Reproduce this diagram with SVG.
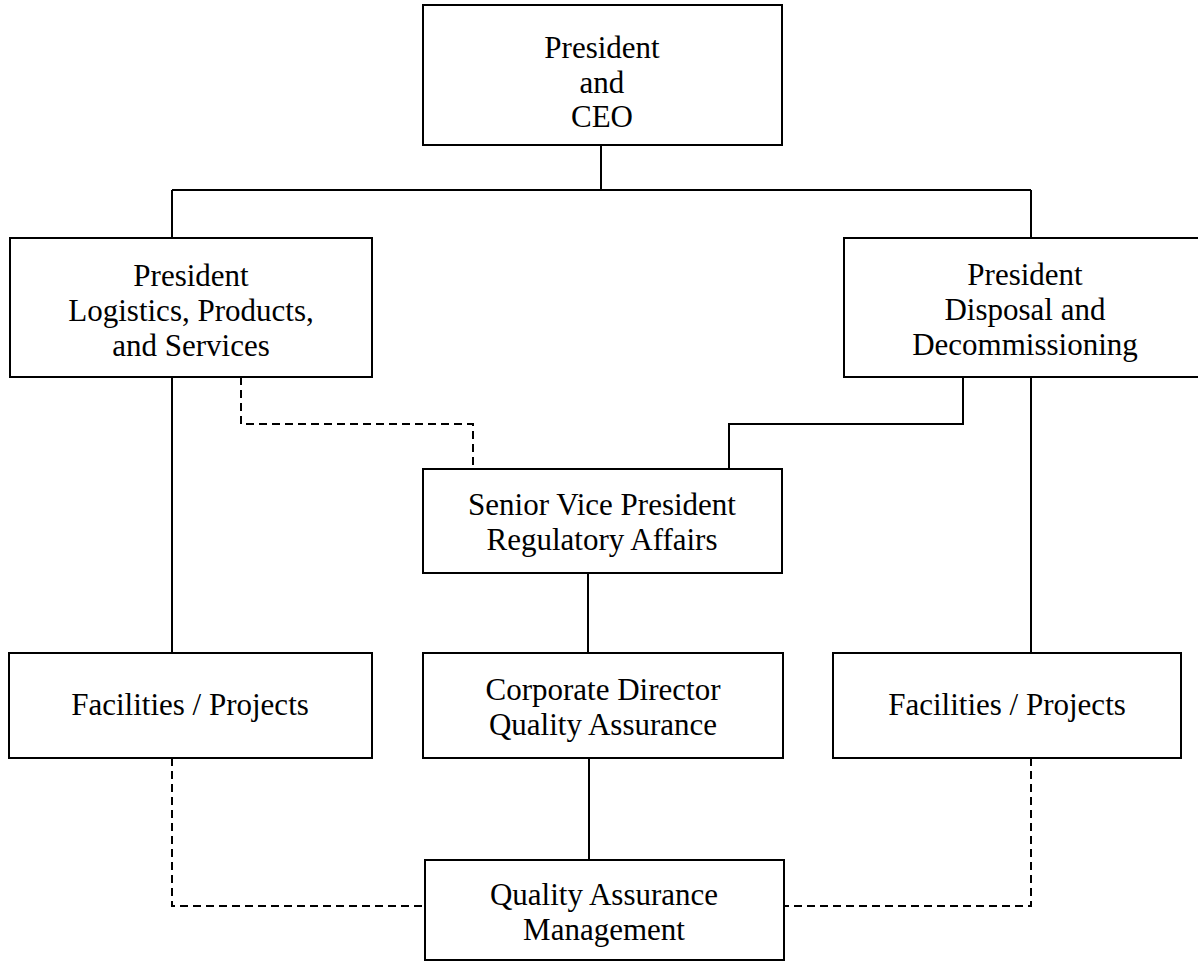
<svg xmlns="http://www.w3.org/2000/svg" width="1198" height="963" viewBox="0 0 1198 963">
<style>
.box{fill:#fff;stroke:#000;stroke-width:2}
.solid{fill:none;stroke:#000;stroke-width:2}
.dash{fill:none;stroke:#000;stroke-width:2;stroke-dasharray:8 5}
text{font-family:"Liberation Serif","Times New Roman",serif;font-size:31px;fill:#000;text-anchor:middle}
</style>
<rect width="1198" height="963" fill="#fff"/>
<g id="connectors">
<path class="solid" d="M601 145V190M172 190H1031M172 190V238M1031 190V238"/>
<path class="solid" d="M172 377V653"/>
<path class="solid" d="M1031 377V653"/>
<path class="dash" d="M241 377V424H473V469"/>
<path class="solid" d="M963 377V424H729V469"/>
<path class="solid" d="M588 573V653"/>
<path class="solid" d="M589 758V860"/>
<path class="dash" d="M172 758V906H425"/>
<path class="dash" d="M1031 758V906H784"/>
</g>
<g id="ceo">
<rect class="box" x="423" y="5" width="359" height="140"/>
<text x="602" y="58">President</text>
<text x="602" y="93">and</text>
<text x="602" y="127">CEO</text>
</g>
<g id="pres-lps">
<rect class="box" x="10" y="238" width="362" height="139"/>
<text x="191" y="286">President</text>
<text x="191" y="321">Logistics, Products,</text>
<text x="191" y="356">and Services</text>
</g>
<g id="pres-dd">
<rect class="box" x="844" y="238" width="362" height="139"/>
<text x="1025" y="285">President</text>
<text x="1025" y="320">Disposal and</text>
<text x="1025" y="355">Decommissioning</text>
</g>
<g id="svp">
<rect class="box" x="423" y="469" width="359" height="104"/>
<text x="602" y="515">Senior Vice President</text>
<text x="602" y="550">Regulatory Affairs</text>
</g>
<g id="fp-left">
<rect class="box" x="9" y="653" width="363" height="105"/>
<text x="190" y="715">Facilities / Projects</text>
</g>
<g id="cdqa">
<rect class="box" x="423" y="653" width="360" height="105"/>
<text x="603" y="700">Corporate Director</text>
<text x="603" y="735">Quality Assurance</text>
</g>
<g id="fp-right">
<rect class="box" x="833" y="653" width="348" height="105"/>
<text x="1007" y="715">Facilities / Projects</text>
</g>
<g id="qam">
<rect class="box" x="425" y="860" width="359" height="100"/>
<text x="604" y="905">Quality Assurance</text>
<text x="604" y="940">Management</text>
</g>
</svg>
